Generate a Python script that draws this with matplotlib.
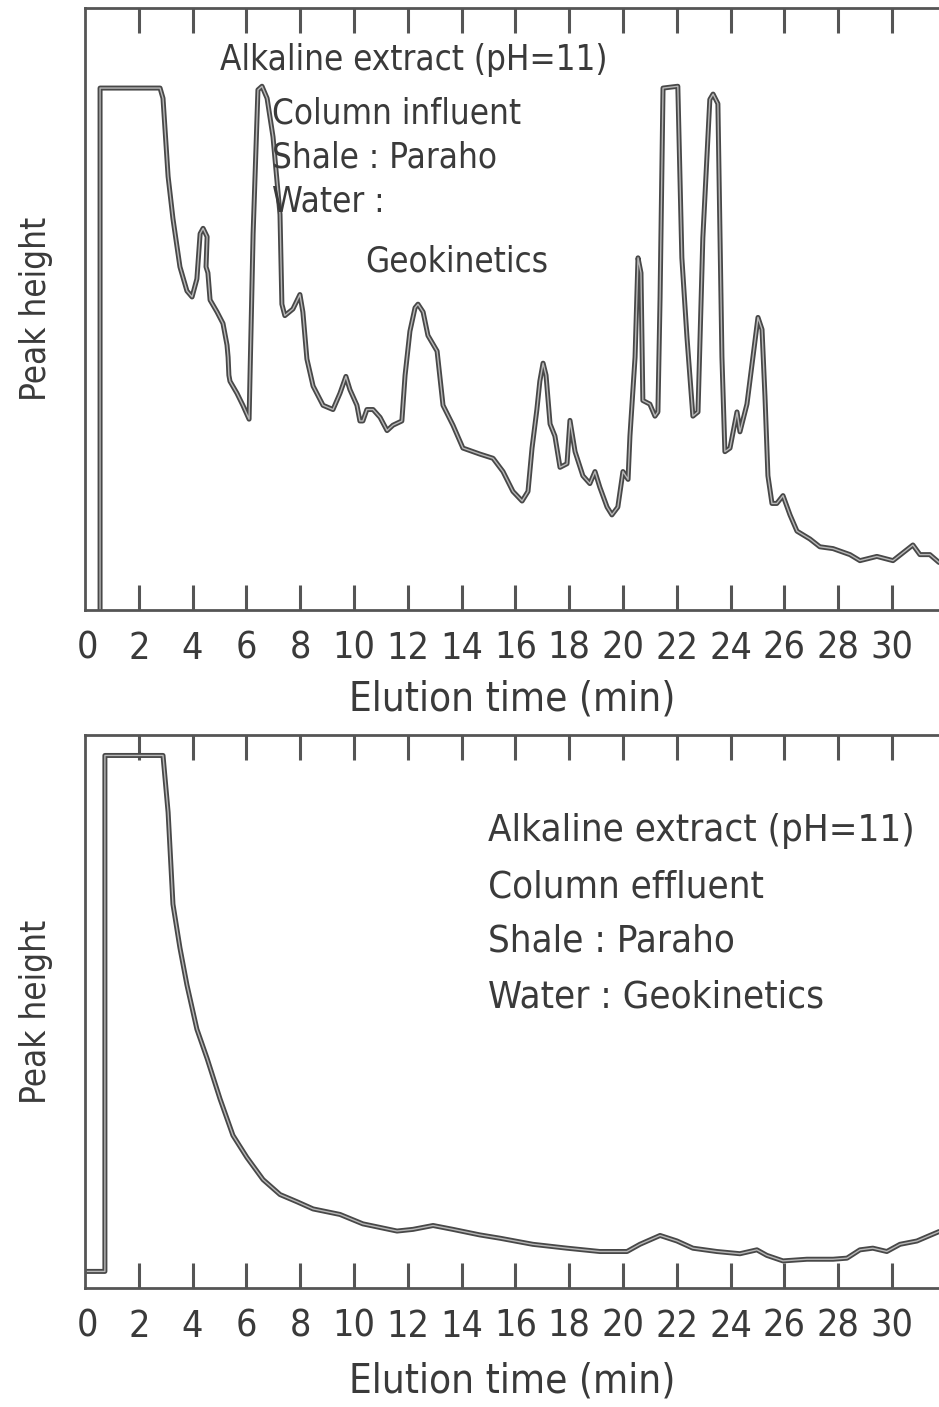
import matplotlib
matplotlib.use('Agg')
import matplotlib.pyplot as plt
from matplotlib import font_manager

# --- data (time in min, peak height in % of frame) ---
influent_time = [0.56, 0.56, 2.79, 2.90, 3.09, 3.27, 3.53, 3.79, 3.98, 4.16, 4.28, 4.39,
                 4.54, 4.50, 4.57, 4.65, 4.91, 5.13, 5.28, 5.32, 5.35, 5.39, 5.65, 5.87,
                 6.10, 6.25, 6.43, 6.58, 6.77, 6.99, 7.25, 7.32, 7.43, 7.73, 7.99, 8.10,
                 8.25, 8.48, 8.85, 9.22, 9.48, 9.70, 9.85, 10.11, 10.22, 10.33, 10.48,
                 10.71, 10.97, 11.23, 11.45, 11.78, 11.90, 12.08, 12.27, 12.38, 12.57,
                 12.75, 13.09, 13.31, 13.68, 14.05, 14.68, 15.17, 15.54, 15.91, 16.25,
                 16.47, 16.62, 16.80, 16.91, 17.03, 17.14, 17.29, 17.47, 17.66, 17.92,
                 18.03, 18.22, 18.51, 18.77, 18.96, 19.14, 19.41, 19.59, 19.81, 20.00,
                 20.19, 20.26, 20.45, 20.56, 20.67, 20.74, 21.00, 21.19, 21.30, 21.38,
                 21.49, 22.04, 22.19, 22.38, 22.60, 22.79, 22.97, 23.23, 23.35, 23.53,
                 23.68, 23.79, 23.98, 24.24, 24.35, 24.61, 24.83, 25.02, 25.17, 25.28,
                 25.39, 25.54, 25.72, 25.95, 26.21, 26.47, 26.95, 27.32, 27.81, 28.44,
                 28.81, 29.44, 30.04, 30.41, 30.78, 31.04, 31.41, 31.75]
influent_height = [0, 86.7, 86.7, 85, 72, 65, 57, 53, 52, 55, 62.5, 63.4,
                   62, 57, 56, 51.5, 49.5, 47.6, 44, 42, 39, 38, 36, 34,
                   31.7, 62.5, 86.4, 87, 85, 78.6, 65.7, 50.8, 48.9, 50, 52.4, 49.5,
                   41.7, 37.2, 34, 33.3, 36, 38.8, 36.6, 34, 31.4, 31.4, 33.3,
                   33.3, 32, 29.8, 30.7, 31.4, 39, 46.3, 50.2, 50.8, 49.5,
                   45.6, 43, 34, 30.7, 26.9, 25.9, 25.2, 23, 19.7, 18.1,
                   19.7, 26.9, 33.3, 38, 41, 39, 30.9, 28.9, 23.7, 24.3,
                   31.5, 26.3, 22.3, 21, 23, 20.4, 17.1, 15.8, 17.1, 23,
                   21.7, 28.9, 42, 58.5, 56, 34.8, 34.2, 32.2, 32.9, 51.9,
                   86.7, 87, 58.5, 45.3, 32.2, 32.9, 61.8, 84.8, 85.7, 84.1,
                   42, 26.3, 26.9, 32.9, 29.6, 34.2, 42, 48.6, 46.6, 35.5,
                   22.3, 17.7, 17.7, 19, 15.8, 13.1, 11.8, 10.5, 10.2, 9.2,
                   8.2, 8.9, 8.2, 9.5, 10.8, 9.2, 9.2, 7.9]

effluent_time = [0.0, 0.74, 0.74, 2.90, 3.09, 3.27, 3.53, 3.79, 4.16, 4.54, 5.02, 5.50,
                 6.02, 6.62, 7.25, 7.88, 8.48, 9.48, 10.33, 11.60, 12.19, 12.94, 13.68,
                 14.68, 15.43, 16.65, 17.92, 19.14, 20.15, 20.63, 21.38, 22.01, 22.60,
                 23.49, 24.35, 24.98, 25.35, 25.95, 26.84, 27.81, 28.33, 28.81, 29.29,
                 29.81, 30.30, 30.93, 31.41, 31.75]
effluent_height = [3.0, 3.0, 96.3, 96.3, 86, 69.4, 61.5, 54.8, 46.8, 41.5, 34.2, 27.6,
                   23.6, 19.6, 16.9, 15.6, 14.3, 13.3, 11.6, 10.3, 10.6, 11.3, 10.6,
                   9.6, 9.0, 7.9, 7.2, 6.6, 6.6, 7.9, 9.5, 8.5, 7.2,
                   6.6, 6.2, 6.9, 5.9, 4.9, 5.2, 5.2, 5.4, 6.9, 7.2,
                   6.6, 7.9, 8.5, 9.5, 10.2]

tick_minutes = [0.1, 2, 4, 6, 8, 10, 12, 14, 16, 18, 20, 22, 24, 26, 28, 30]
tick_labels = ['0', '2', '4', '6', '8', '10', '12', '14', '16', '18', '20', '22',
               '24', '26', '28', '30']

influent_notes = ['Alkaline extract (pH=11)', 'Column influent', 'Shale : Paraho',
                  'Water :', 'Geokinetics']
effluent_notes = ['Alkaline extract (pH=11)', 'Column effluent', 'Shale : Paraho',
                  'Water : Geokinetics']


def pick_font():
    # narrow lettering, like the stencil text of the original
    tries = [('Noto Sans', 'extra-condensed'), ('Noto Sans ExtraCondensed', 'normal'),
             ('Liberation Sans Narrow', 'normal'), ('Noto Sans', 'condensed'),
             ('Noto Sans Condensed', 'normal'), ('DejaVu Sans', 'condensed')]
    for fam, st in tries:
        try:
            path = font_manager.findfont(font_manager.FontProperties(family=fam, stretch=st),
                                         fallback_to_default=False)
        except ValueError:
            continue
        if 'ondensed' in path or 'arrow' in path:
            return dict(family=fam, stretch=st)
    return dict(family='DejaVu Sans')


FONT = pick_font()
INK = '#3a3a3a'
W, H = 939, 1407

fig = plt.figure(figsize=(W / 100, H / 100), dpi=100)
fig.patch.set_facecolor('white')


def axes_px(left, top, right, bottom):
    return fig.add_axes([left / W, 1 - bottom / H, (right - left) / W, (bottom - top) / H])


def text_px(x, y, s, size):
    fig.text(x / W, 1 - y / H, s, ha='left', va='baseline', fontsize=size, color=INK, **FONT)


def style(ax, time, height, xlabel_pad):
    ax.plot(time, height, color='#484848', lw=3.6, solid_joinstyle='round', solid_capstyle='round')
    ax.plot(time, height, color='#b8b8b8', lw=1.0, solid_joinstyle='round')
    ax.set_xlim(0, 31.75)
    ax.set_ylim(0, 100)
    ax.set_yticks([])
    ax.set_xticks(tick_minutes)
    ax.set_xticklabels(tick_labels, fontsize=27, color=INK, **FONT)
    ax.tick_params(axis='x', direction='in', length=18, width=2.2, color='#555555',
                   top=True, bottom=True, pad=15)
    first = ax.xaxis.get_major_ticks()[0]
    first.tick1line.set_visible(False)
    first.tick2line.set_visible(False)
    for side in ('left', 'top', 'bottom'):
        ax.spines[side].set_color('#555555')
        ax.spines[side].set_linewidth(2.0)
    ax.spines['right'].set_visible(False)
    ax.set_xlabel('Elution time (min)', fontsize=29, color=INK, labelpad=xlabel_pad, **FONT)
    ax.set_ylabel('Peak height', fontsize=25, color=INK, **FONT)
    ax.yaxis.set_label_coords(-0.038, 0.5)


ax1 = axes_px(85, 8, 939, 610)
style(ax1, influent_time, influent_height, 9)

ax2 = axes_px(85, 735, 939, 1288)
style(ax2, effluent_time, effluent_height, 12)

# annotations
for (x, y), s in zip([(220, 70), (272, 124), (272, 167), (272, 212), (365, 271)], influent_notes):
    text_px(x, y, s, 25)
for (x, y), s in zip([(488, 841), (488, 897), (488, 952), (488, 1007)], effluent_notes):
    text_px(x, y, s, 27.5)

fig.savefig('out.png', dpi=100, facecolor='white')
